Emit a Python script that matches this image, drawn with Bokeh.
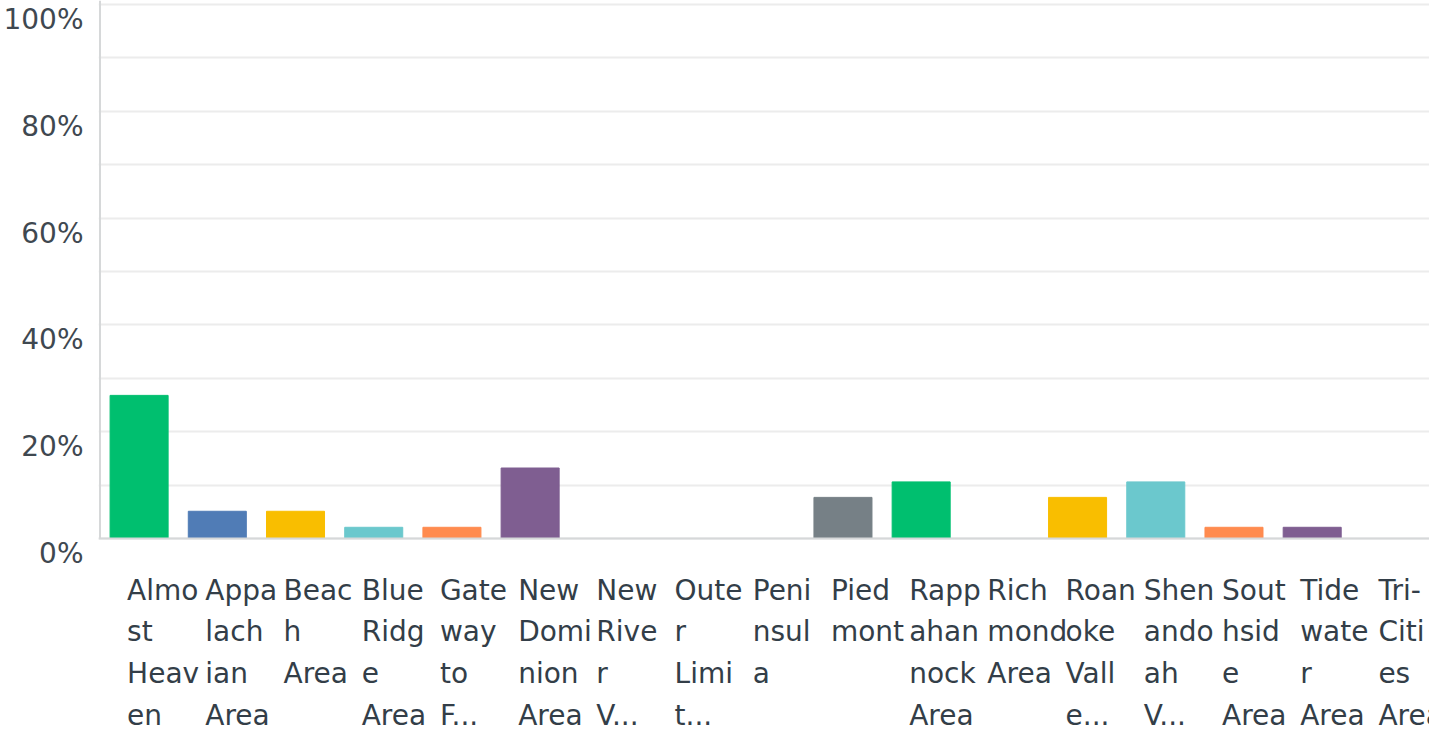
from bokeh.plotting import figure
from bokeh.models import (ColumnDataSource, Range1d, LinearAxis, FixedTicker,
                          PrintfTickFormatter, Span)
from bokeh.core.properties import value
from bokeh.embed import file_html
from bokeh.resources import INLINE

# ---- data ----
categories = ["Almost Heaven", "Appalachian Area", "Beach Area", "Blue Ridge Area",
              "Gateway to Fredericksburg", "New Dominion Area", "New River Valley",
              "Outer Limits", "Peninsula", "Piedmont", "Rappahannock Area",
              "Richmond Area", "Roanoke Valley", "Shenandoah Valley",
              "Southside Area", "Tidewater Area", "Tri-Cities Area"]
tick_labels = ["Almo\nst\nHeav\nen", "Appa\nlach\nian\nArea", "Beac\nh\nArea",
               "Blue\nRidg\ne\nArea", "Gate\nway\nto\nF...", "New\nDomi\nnion\nArea",
               "New\nRive\nr\nV...", "Oute\nr\nLimi\nt...", "Peni\nnsul\na",
               "Pied\nmont", "Rapp\nahan\nnock\nArea", "Rich\nmond\nArea",
               "Roan\noke\nVall\ne...", "Shen\nando\nah\nV...", "Sout\nhsid\ne\nArea",
               "Tide\nwate\nr\nArea", "Tri-\nCiti\nes\nArea"]
percent = [26.8, 5.1, 5.1, 2.1, 2.1, 13.2, 0.0, 0.0, 0.0, 7.7, 10.6, 0.0, 7.7, 10.6,
           2.1, 2.1, 0.0]
palette = ["#00BF6F", "#507CB6", "#F9BE00", "#6BC8CD", "#FF8B4F", "#7F5E91",
           "#D25F90", "#DBCB3F", "#A2D7B0", "#768086"]
y_tick_values = [0, 20, 40, 60, 80, 100]
grid_values = [0, 10, 20, 30, 40, 50, 60, 70, 80, 90, 100]

# ---- layout constants (pixels) ----
W, H = 1429, 732
LEFT = 98
TOP_PX = 4               # figure y of the 100% line
ZERO_PX = 538            # figure y of the 0% line
PX_PER = (ZERO_PX - TOP_PX) / 100.0
Y_LABEL_DROP = 15        # y tick labels sit a bit below their gridline
X_LABEL_TOP = 35         # px below baseline where category labels start
X_LABEL_DX = -12         # px left of bar centre where category labels start

n = len(categories)
x_end = n - 0.5
slot_px = (W - LEFT) / (n + 0.02)
x_start = -0.5 - 1.5 / slot_px
y_end = 100 + TOP_PX / PX_PER
y_start = y_end - H / PX_PER

idx = list(range(n))
colors = [palette[i % len(palette)] for i in idx]
src = ColumnDataSource(dict(x=idx, top=percent, color=colors, cat=categories,
                            lx=[i + X_LABEL_DX / slot_px for i in idx],
                            ly=[-X_LABEL_TOP / PX_PER] * n, lab=tick_labels))

p = figure(width=W, height=H, output_backend="svg", toolbar_location=None,
           x_range=Range1d(x_start, x_end), y_range=Range1d(y_start, y_end),
           x_axis_location=None, y_axis_location=None,
           min_border_left=LEFT, min_border_right=0, min_border_top=0,
           min_border_bottom=0)
p.outline_line_color = None
p.background_fill_color = "white"
p.border_fill_color = "white"

p.xgrid.visible = False
p.ygrid.ticker = FixedTicker(ticks=grid_values)
p.ygrid.grid_line_color = "#ececec"
p.ygrid.grid_line_width = 2

# y labels on an offset range so they sit slightly under the gridlines
off = Y_LABEL_DROP / PX_PER
p.extra_y_ranges = {"ylab": Range1d(y_start + off, y_end + off)}
yax = LinearAxis(y_range_name="ylab", ticker=FixedTicker(ticks=y_tick_values),
                 formatter=PrintfTickFormatter(format="%d%%"))
yax.axis_line_color = None
yax.major_tick_line_color = None
yax.minor_tick_line_color = None
yax.major_tick_out = 0
yax.major_label_standoff = 15
yax.major_label_text_font = "DejaVu Sans"
yax.major_label_text_font_size = "28px"
yax.major_label_text_color = "#3f4850"
p.add_layout(yax, "left")

p.vbar(x="x", top="top", width=0.742, bottom=0, source=src,
       fill_color="color", line_color="color", line_width=1)

# axis lines
p.add_layout(Span(location=0, dimension="width", line_color="#d6d8d9", line_width=2))
p.segment(x0=[-0.5], y0=[0], x1=[-0.5], y1=[y_end], line_color="#d6d8d9", line_width=2)

# category labels (wrapped)
p.text(x="lx", y="ly", text="lab", source=src, text_align="left",
       text_baseline="top", text_font=value("DejaVu Sans"),
       text_font_size="28px", text_color="#333e48", text_line_height=1.267)

open("out.html", "w").write(file_html(p, INLINE))
